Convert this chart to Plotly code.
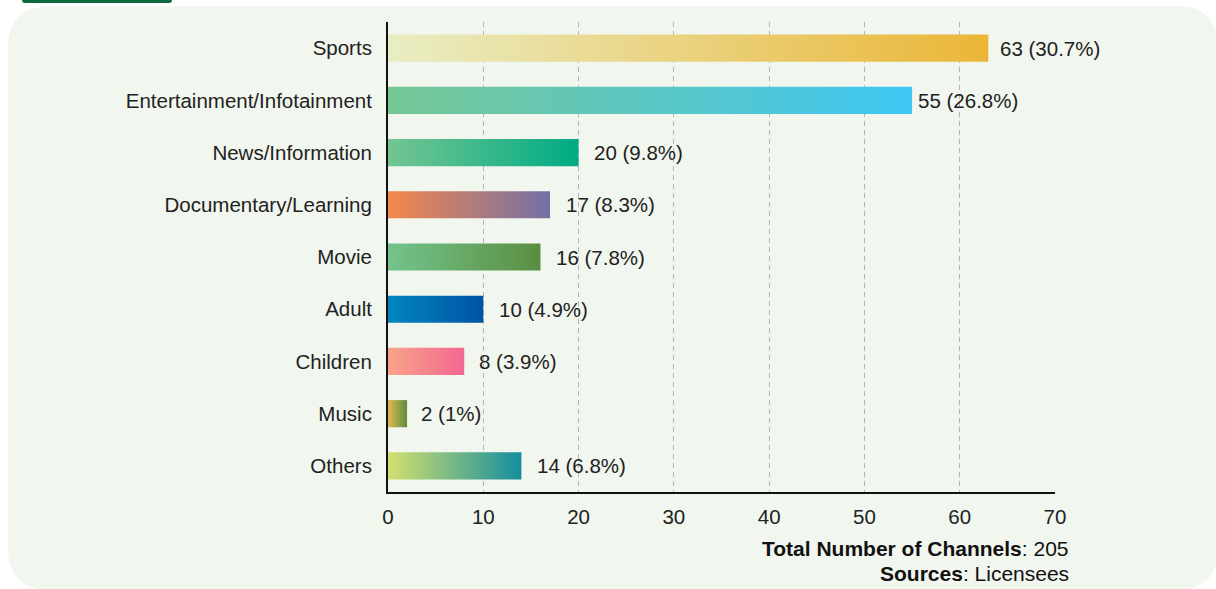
import plotly.graph_objects as go

categories = ["Sports", "Entertainment/Infotainment", "News/Information",
              "Documentary/Learning", "Movie", "Adult", "Children", "Music", "Others"]
channels = [63, 55, 20, 17, 16, 10, 8, 2, 14]
percent_labels = ["30.7%", "26.8%", "9.8%", "8.3%", "7.8%", "4.9%", "3.9%", "1%", "6.8%"]
x_ticks = [0, 10, 20, 30, 40, 50, 60, 70]
total_channels = 205
source = "Licensees"

grad_start = ["#e9edc4", "#77c794", "#74c592", "#f4874b", "#73c48d", "#0186c0",
              "#f9a389", "#e3b852", "#d4e06e"]
grad_end = ["#ebb637", "#3fc7f4", "#00ab84", "#7470a7", "#5a8e40", "#0053a4",
            "#f36891", "#5a8d3c", "#148e9f"]
label_shift = [10, 4, 13, 14, 14, 14, 13, 12, 14]

W, H = 1216, 589
L, R, T, B = 388, 1055, 22, 492
ml, mr, mt, mb = L, W - R, T, H - B

def px_to_paper(px, py):
    return (px - L) / (R - L), (B - py) / (B - T)

def rounded_path(x0, y0, x1, y1, r):
    def P(x, y):
        a, b = px_to_paper(x, y)
        return f"{a:.5f},{b:.5f}"
    d = f"M {P(x0 + r, y0)} L {P(x1 - r, y0)} Q {P(x1, y0)} {P(x1, y0 + r)} "
    d += f"L {P(x1, y1 - r)} Q {P(x1, y1)} {P(x1 - r, y1)} "
    d += f"L {P(x0 + r, y1)} Q {P(x0, y1)} {P(x0, y1 - r)} "
    d += f"L {P(x0, y0 + r)} Q {P(x0, y0)} {P(x0 + r, y0)} Z"
    return d

FS = 20.5
fig = go.Figure()
half = 0.26
for i, (cat, v) in enumerate(zip(categories, channels)):
    fig.add_trace(go.Scatter(
        x=[0, v, v, 0, 0],
        y=[i - half, i - half, i + half, i + half, i - half],
        mode="lines", line=dict(width=0), fill="toself",
        fillgradient=dict(type="horizontal",
                          colorscale=[[0, grad_start[i]], [1, grad_end[i]]]),
        name=cat, hoverinfo="skip", showlegend=False,
    ))

annotations = []
for i, (v, p) in enumerate(zip(channels, percent_labels)):
    annotations.append(dict(x=v, y=i, xref="x", yref="y", text=f"{v} ({p})",
                            showarrow=False, xanchor="left", yanchor="middle",
                            xshift=label_shift[i],
                            font=dict(size=FS, color="#222222")))

ax, ay = px_to_paper(1071, 548)
annotations.append(dict(x=ax, y=ay, xref="paper", yref="paper",
                        text=f"<b>Total Number of Channels</b>: {total_channels}",
                        showarrow=False, xanchor="right", yanchor="middle",
                        font=dict(size=21, color="#111111")))
ax, ay = px_to_paper(1071, 573)
annotations.append(dict(x=ax, y=ay, xref="paper", yref="paper",
                        text=f"<b>Sources</b>: {source}",
                        showarrow=False, xanchor="right", yanchor="middle",
                        font=dict(size=21, color="#111111")))

shapes = [
    dict(type="path", xref="paper", yref="paper", layer="below",
         path=rounded_path(8, 6, 1218, 590, 42),
         fillcolor="#f1f6ee", line=dict(width=0)),
    dict(type="path", xref="paper", yref="paper", layer="below",
         path=rounded_path(22, -6, 172, 3, 3),
         fillcolor="#0a6a3c", line=dict(width=0)),
]

fig.update_layout(
    width=W, height=H,
    margin=dict(l=ml, r=mr, t=mt, b=mb, pad=0),
    paper_bgcolor="white", plot_bgcolor="rgba(0,0,0,0)",
    font=dict(family="Liberation Sans, Arial, sans-serif", size=FS, color="#222222"),
    showlegend=False,
    annotations=annotations, shapes=shapes,
    xaxis=dict(range=[0, 70], tickvals=x_ticks, showgrid=True,
               gridcolor="#b5b5b5", gridwidth=1, griddash="5px,4px",
               zeroline=False, showline=True, linecolor="#111111", linewidth=1.5,
               ticks="", ticklabelstandoff=6, fixedrange=True),
    yaxis=dict(range=[len(categories) - 0.5, -0.5], tickvals=list(range(len(categories))),
               ticktext=categories, showgrid=False, zeroline=False,
               showline=True, linecolor="#111111", linewidth=2,
               ticks="", ticklabelstandoff=10, fixedrange=True),
)

fig.write_html("out.html")
